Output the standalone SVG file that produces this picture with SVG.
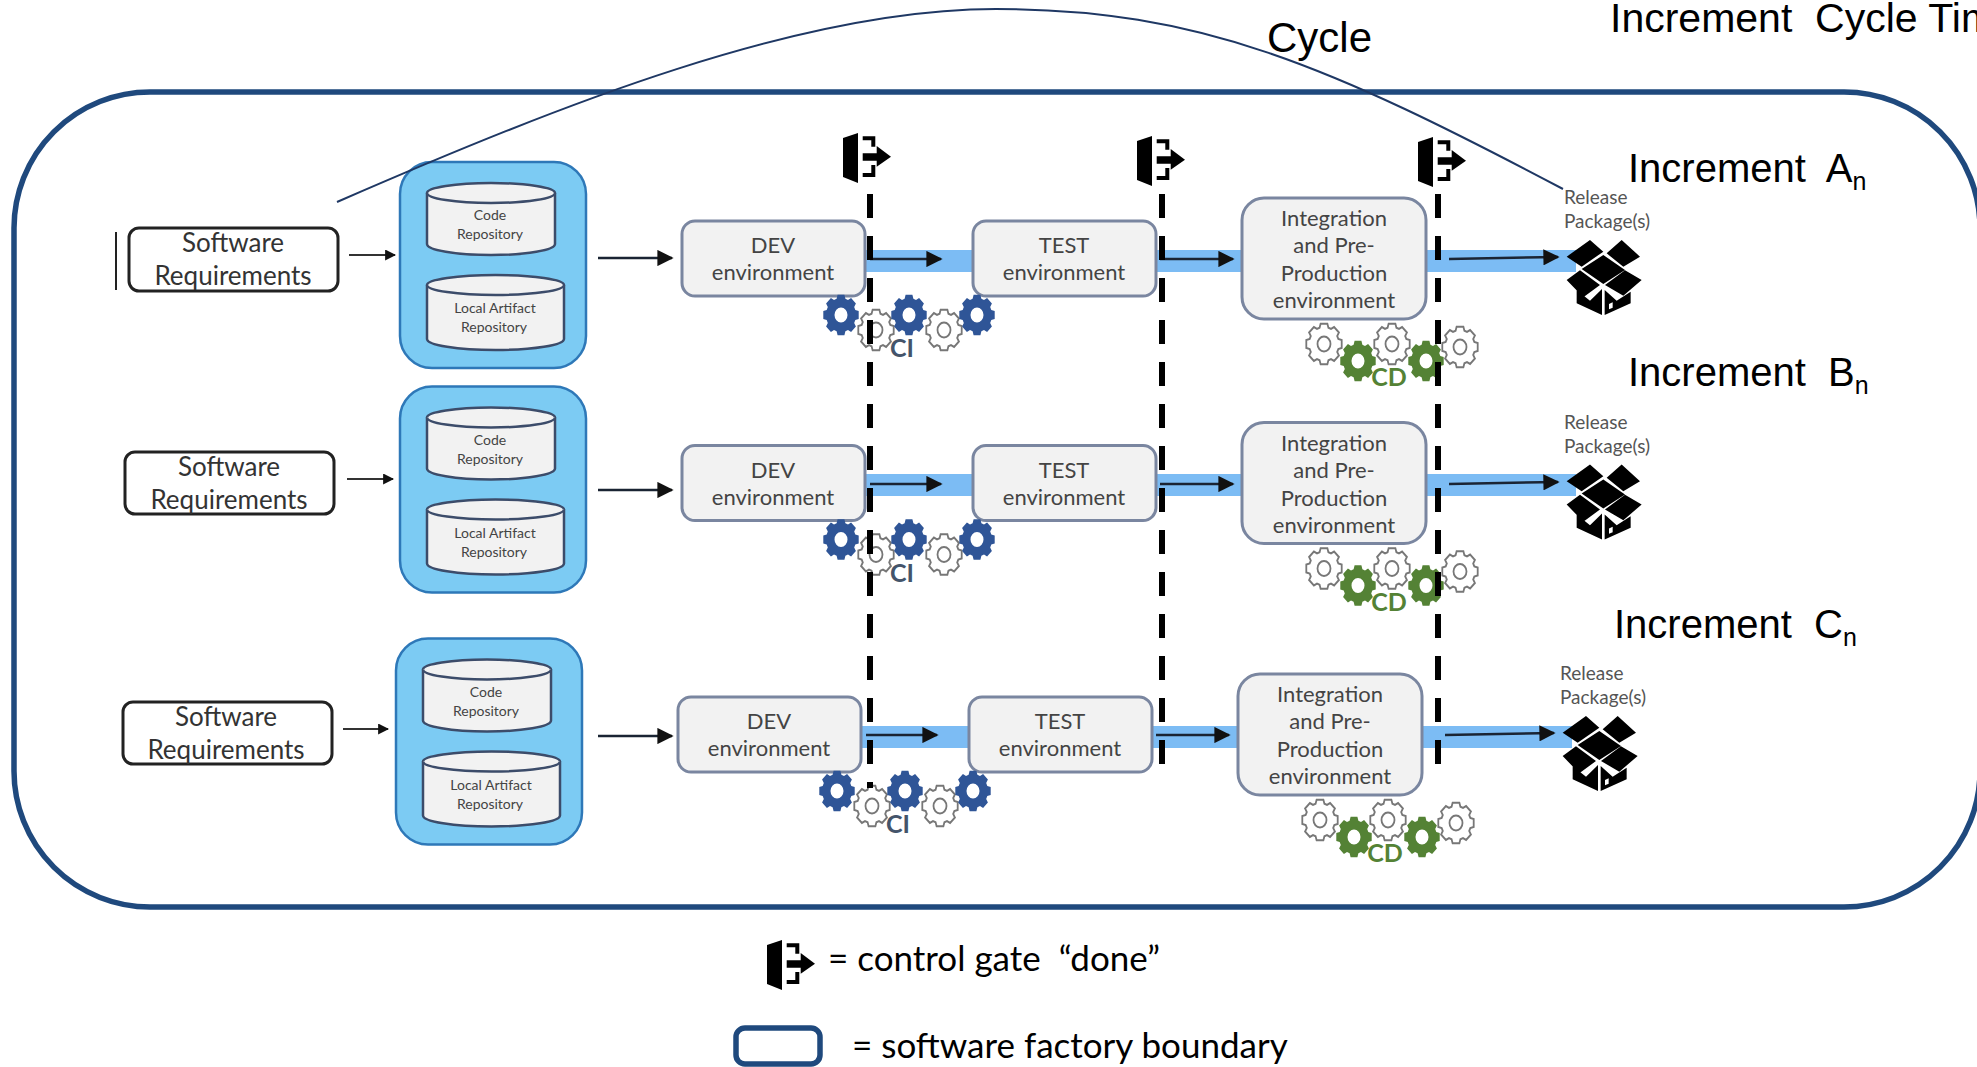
<svg xmlns="http://www.w3.org/2000/svg" width="1977" height="1067" viewBox="0 0 1977 1067">
<style>
text{font-family:Lato,"Liberation Sans",sans-serif}
.big{font-family:"Liberation Sans",Arial,sans-serif;font-size:40px;fill:#000}
.sub{font-size:25px}
.box{fill:#f2f2f2;stroke:#7a86a0;stroke-width:3}
.t{font-size:22px;fill:#444;text-anchor:middle}
.req{fill:#fff;stroke:#222;stroke-width:3}
.rt{font-size:26px;fill:#333;text-anchor:middle}
.cont{fill:#7ccbf3;stroke:#2e78b8;stroke-width:2.500}
.cyl{fill:#f2f2f2;stroke:#3c4c6a;stroke-width:2.500}
.ct{font-size:14px;fill:#444;text-anchor:middle}
.rel{font-size:19px;fill:#555}
.band{fill:#7cbcf4}
.dash{stroke:#000;stroke-width:6;stroke-dasharray:24 18;fill:none}
.ar{stroke:#1a2433;stroke-width:2.500;fill:none;marker-end:url(#ah)}
.ar2{stroke:#333;stroke-width:2.200;fill:none;marker-end:url(#ah2)}
.gb{fill:#2f5597;fill-rule:evenodd}
.gg{fill:#548235;fill-rule:evenodd}
.gw{fill:#fff;stroke:#777;stroke-width:1.800}
.ci{font-size:25px;font-weight:700;fill:#44546a;text-anchor:middle}
.cd{font-size:25px;font-weight:700;fill:#548235;text-anchor:middle}
.leg{font-size:35px;fill:#000}
</style>
<defs>
<marker id="ah" viewBox="0 0 10 10" refX="9" refY="5" markerWidth="6.500" markerHeight="6.500" orient="auto"><path d="M0 0L10 5L0 10Z" fill="#111"/></marker>
<marker id="ah2" viewBox="0 0 10 10" refX="9" refY="5" markerWidth="5" markerHeight="5" orient="auto"><path d="M0 0L10 5L0 10Z" fill="#111"/></marker>
<path id="gear" d="M3.4-17.700L4.400-14.300L7-13.200L10.100-14.900L14.900-10.100L13.200-7L14.300-4.400L17.700-3.400L17.700 3.400L14.300 4.400L13.200 7L14.900 10.100L10.100 14.900L7 13.200L4.400 14.300L3.400 17.700L-3.400 17.700L-4.400 14.300L-7 13.200L-10.100 14.900L-14.900 10.100L-13.200 7L-14.300 4.400L-17.700 3.400L-17.700-3.400L-14.300-4.400L-13.200-7L-14.900-10.100L-10.100-14.900L-7-13.200L-4.400-14.300L-3.400-17.700Z"/>
<g id="gearBlue" transform="scale(1,1.14)"><path class="gb" d="M3.4-17.700L4.400-14.300L7-13.200L10.100-14.900L14.900-10.100L13.200-7L14.300-4.400L17.700-3.400L17.700 3.400L14.300 4.400L13.200 7L14.900 10.100L10.100 14.900L7 13.200L4.400 14.300L3.400 17.700L-3.400 17.700L-4.400 14.300L-7 13.200L-10.100 14.900L-14.900 10.100L-13.200 7L-14.300 4.400L-17.700 3.400L-17.700-3.400L-14.300-4.400L-13.200-7L-14.900-10.100L-10.100-14.900L-7-13.200L-4.400-14.300L-3.400-17.700ZM0-6.500A6.500 6.500 0 1 0 0 6.500A6.500 6.500 0 1 0 0-6.500Z"/></g>
<g id="gearGreen" transform="scale(1,1.14)"><path class="gg" d="M3.4-17.700L4.400-14.300L7-13.200L10.100-14.900L14.900-10.100L13.200-7L14.300-4.400L17.700-3.400L17.700 3.400L14.300 4.400L13.200 7L14.900 10.100L10.100 14.900L7 13.200L4.400 14.300L3.400 17.700L-3.400 17.700L-4.400 14.300L-7 13.200L-10.100 14.900L-14.900 10.100L-13.200 7L-14.300 4.400L-17.700 3.400L-17.700-3.400L-14.300-4.400L-13.200-7L-14.900-10.100L-10.100-14.900L-7-13.200L-4.400-14.300L-3.400-17.700ZM0-6.500A6.500 6.500 0 1 0 0 6.500A6.500 6.500 0 1 0 0-6.500Z"/></g>
<g id="gearWhite" transform="scale(1,1.14)"><use href="#gear" class="gw"/><circle r="6.500" fill="none" stroke="#777" stroke-width="1.800"/></g>
<g id="gate"><path d="M0 6L15 1V51L0 45Z" fill="#000"/><path d="M19.700 6.300H30.300V14.700M19.700 43H30.300V33" fill="none" stroke="#000" stroke-width="4"/><path d="M19.700 21.300H33.700V14L48 24.700L33.700 34.700V28.700H19.700Z" fill="#000"/></g>
<g id="pkg" transform="scale(.3333)">
<path d="M150 45L190 80L125 125L80 95ZM245 45L300 95L250 125L200 85ZM190 90L255 135L190 177L125 132ZM120 136L180 180L130 217L80 165ZM255 136L305 165L250 212L195 180ZM110 195L150 227L186 192V270L110 235ZM272 200V235L194 270V195L230 227Z" fill="#000"/>
<path d="M207 237L218 232V248L207 253Z" fill="#fff"/></g>
<g id="cyl1"><path class="cyl" d="M427 193A64 10 0 0 1 555 193V244A64 11 0 0 1 427 244Z"/><path class="cyl" fill="none" d="M427 193A64 10 0 0 0 555 193"/></g>
<g id="cyl2"><path class="cyl" d="M427 285A68.500 10 0 0 1 564 285V339A68.500 11 0 0 1 427 339Z"/><path class="cyl" fill="none" d="M427 285A68.500 10 0 0 0 564 285"/></g>
</defs>

<rect id="boundary" x="14" y="92" width="1966" height="815" rx="136" ry="136" fill="none" stroke="#1f497d" stroke-width="5.500"/>

<g id="bands">
<rect class="band" x="865" y="250" width="107" height="22"/><rect class="band" x="1156" y="250" width="86" height="22"/><rect class="band" x="1426" y="250" width="150" height="22"/>
<rect class="band" x="865" y="474" width="107" height="22"/><rect class="band" x="1156" y="474" width="86" height="22"/><rect class="band" x="1426" y="474" width="150" height="22"/>
<rect class="band" x="861" y="726" width="107" height="22"/><rect class="band" x="1152" y="726" width="86" height="22"/><rect class="band" x="1422" y="726" width="150" height="22"/>
</g>

<!-- Row A -->
<g id="req-a"><path d="M116 232V290" stroke="#222" stroke-width="2"/><rect class="req" x="129" y="228" width="209" height="63" rx="10"/><text class="rt" x="233" y="252">Software</text><text class="rt" x="233" y="285">Requirements</text></g>
<g id="repo-a"><rect class="cont" x="400" y="162" width="186" height="206" rx="32"/><use href="#cyl1"/><use href="#cyl2"/><text class="ct" x="490" y="220">Code</text><text class="ct" x="490" y="239">Repository</text><text class="ct" x="495" y="313">Local Artifact</text><text class="ct" x="494" y="332">Repository</text></g>
<g id="dev-a"><rect class="box" x="682" y="221" width="183" height="75" rx="13"/><text class="t" x="773" y="253">DEV</text><text class="t" x="773" y="280">environment</text></g>
<g id="test-a"><rect class="box" x="973" y="221" width="183" height="75" rx="13"/><text class="t" x="1064" y="253">TEST</text><text class="t" x="1064" y="280">environment</text></g>
<g id="int-a"><rect class="box" x="1242" y="198" width="184" height="121" rx="22"/><text class="t" x="1334" y="226">Integration</text><text class="t" x="1334" y="253">and Pre-</text><text class="t" x="1334" y="281">Production</text><text class="t" x="1334" y="308">environment</text></g>
<g id="pkg-a"><text class="rel" x="1564" y="204">Release</text><text class="rel" x="1564" y="228">Package(s)</text><use href="#pkg" transform="translate(1540,225)"/></g>
<g id="ci-a"><use href="#gearBlue" transform="translate(841,315)"/><use href="#gearWhite" transform="translate(876,330)"/><use href="#gearBlue" transform="translate(909,315)"/><use href="#gearWhite" transform="translate(944,330)"/><use href="#gearBlue" transform="translate(977,315)"/><text class="ci" x="902" y="357">CI</text></g>
<g id="cd-a"><use href="#gearWhite" transform="translate(1324,344)"/><use href="#gearWhite" transform="translate(1392,344)"/><use href="#gearWhite" transform="translate(1460,347)"/><use href="#gearGreen" transform="translate(1358,361)"/><use href="#gearGreen" transform="translate(1426,361)"/><text class="cd" x="1389" y="386">CD</text></g>

<!-- Row B -->
<g id="req-b"><rect class="req" x="125" y="452" width="209" height="62" rx="10"/><text class="rt" x="229" y="476">Software</text><text class="rt" x="229" y="509">Requirements</text></g>
<g id="repo-b" transform="translate(0,224.500)"><rect class="cont" x="400" y="162" width="186" height="206" rx="32"/><use href="#cyl1"/><use href="#cyl2"/><text class="ct" x="490" y="220">Code</text><text class="ct" x="490" y="239">Repository</text><text class="ct" x="495" y="313">Local Artifact</text><text class="ct" x="494" y="332">Repository</text></g>
<g id="dev-b" transform="translate(0,224.500)"><rect class="box" x="682" y="221" width="183" height="75" rx="13"/><text class="t" x="773" y="253">DEV</text><text class="t" x="773" y="280">environment</text></g>
<g id="test-b" transform="translate(0,224.500)"><rect class="box" x="973" y="221" width="183" height="75" rx="13"/><text class="t" x="1064" y="253">TEST</text><text class="t" x="1064" y="280">environment</text></g>
<g id="int-b" transform="translate(0,224.500)"><rect class="box" x="1242" y="198" width="184" height="121" rx="22"/><text class="t" x="1334" y="226">Integration</text><text class="t" x="1334" y="253">and Pre-</text><text class="t" x="1334" y="281">Production</text><text class="t" x="1334" y="308">environment</text></g>
<g id="pkg-b" transform="translate(0,224.500)"><text class="rel" x="1564" y="204">Release</text><text class="rel" x="1564" y="228">Package(s)</text><use href="#pkg" transform="translate(1540,225)"/></g>
<g id="ci-b" transform="translate(0,224.500)"><use href="#gearBlue" transform="translate(841,315)"/><use href="#gearWhite" transform="translate(876,330)"/><use href="#gearBlue" transform="translate(909,315)"/><use href="#gearWhite" transform="translate(944,330)"/><use href="#gearBlue" transform="translate(977,315)"/><text class="ci" x="902" y="357">CI</text></g>
<g id="cd-b" transform="translate(0,224.500)"><use href="#gearWhite" transform="translate(1324,344)"/><use href="#gearWhite" transform="translate(1392,344)"/><use href="#gearWhite" transform="translate(1460,347)"/><use href="#gearGreen" transform="translate(1358,361)"/><use href="#gearGreen" transform="translate(1426,361)"/><text class="cd" x="1389" y="386">CD</text></g>

<!-- Row C -->
<g id="req-c"><rect class="req" x="123" y="702" width="209" height="62" rx="10"/><text class="rt" x="226" y="726">Software</text><text class="rt" x="226" y="759">Requirements</text></g>
<g id="repo-c" transform="translate(-4,476.500)"><rect class="cont" x="400" y="162" width="186" height="206" rx="32"/><use href="#cyl1"/><use href="#cyl2"/><text class="ct" x="490" y="220">Code</text><text class="ct" x="490" y="239">Repository</text><text class="ct" x="495" y="313">Local Artifact</text><text class="ct" x="494" y="332">Repository</text></g>
<g id="dev-c" transform="translate(-4,476)"><rect class="box" x="682" y="221" width="183" height="75" rx="13"/><text class="t" x="773" y="253">DEV</text><text class="t" x="773" y="280">environment</text></g>
<g id="test-c" transform="translate(-4,476)"><rect class="box" x="973" y="221" width="183" height="75" rx="13"/><text class="t" x="1064" y="253">TEST</text><text class="t" x="1064" y="280">environment</text></g>
<g id="int-c" transform="translate(-4,476)"><rect class="box" x="1242" y="198" width="184" height="121" rx="22"/><text class="t" x="1334" y="226">Integration</text><text class="t" x="1334" y="253">and Pre-</text><text class="t" x="1334" y="281">Production</text><text class="t" x="1334" y="308">environment</text></g>
<g id="pkg-c" transform="translate(-4,476)"><text class="rel" x="1564" y="204">Release</text><text class="rel" x="1564" y="228">Package(s)</text><use href="#pkg" transform="translate(1540,225)"/></g>
<g id="ci-c" transform="translate(-4,476)"><use href="#gearBlue" transform="translate(841,315)"/><use href="#gearWhite" transform="translate(876,330)"/><use href="#gearBlue" transform="translate(909,315)"/><use href="#gearWhite" transform="translate(944,330)"/><use href="#gearBlue" transform="translate(977,315)"/><text class="ci" x="902" y="357">CI</text></g>
<g id="cd-c" transform="translate(-4,476)"><use href="#gearWhite" transform="translate(1324,344)"/><use href="#gearWhite" transform="translate(1392,344)"/><use href="#gearWhite" transform="translate(1460,347)"/><use href="#gearGreen" transform="translate(1358,361)"/><use href="#gearGreen" transform="translate(1426,361)"/><text class="cd" x="1389" y="386">CD</text></g>

<g id="connectors">
<path class="ar2" d="M349 255H395"/><path class="ar" d="M598 258H672"/><path class="ar" d="M870 259H941"/><path class="ar" d="M1160 259H1233"/><path class="ar" d="M1449 259L1558 257"/>
<path class="ar2" d="M347 479H393"/><path class="ar" d="M598 490H672"/><path class="ar" d="M870 484H941"/><path class="ar" d="M1160 484H1233"/><path class="ar" d="M1449 484L1558 482"/>
<path class="ar2" d="M343 729H388"/><path class="ar" d="M598 736H672"/><path class="ar" d="M866 735H937"/><path class="ar" d="M1156 735H1229"/><path class="ar" d="M1445 735L1554 733"/>
<path class="dash" d="M870 194V788"/><path class="dash" d="M1162 194V765"/><path class="dash" d="M1438 194V765"/>
<path d="M337 202C560 105 800 9 996 9C1200 9 1330 66 1563 189" fill="none" stroke="#1f3864" stroke-width="2"/>
</g>

<g id="gate-1"><use href="#gate" transform="translate(843,132)"/></g>
<g id="gate-2"><use href="#gate" transform="translate(1137,135)"/></g>
<g id="gate-3"><use href="#gate" transform="translate(1418,136)"/></g>

<text class="big" x="1610" y="32" style="font-size:41px" xml:space="preserve">Increment  Cycle Time</text>
<text class="big" x="1267" y="52" style="font-size:42px">Cycle</text>
<text class="big" x="1628" y="182" xml:space="preserve">Increment  A<tspan class="sub" dy="8">n</tspan></text>
<text class="big" x="1628" y="386" xml:space="preserve">Increment  B<tspan class="sub" dy="8">n</tspan></text>
<text class="big" x="1614" y="638" xml:space="preserve">Increment  C<tspan class="sub" dy="8">n</tspan></text>

<g id="legend-gate"><use href="#gate" transform="translate(767,939)"/><text class="leg" x="828" y="971" xml:space="preserve">= control gate  “done”</text></g>
<g id="legend-boundary"><rect x="736" y="1028" width="84" height="36" rx="9" fill="none" stroke="#1f497d" stroke-width="5.500"/><text class="leg" x="852" y="1058">= software factory boundary</text></g>
</svg>
